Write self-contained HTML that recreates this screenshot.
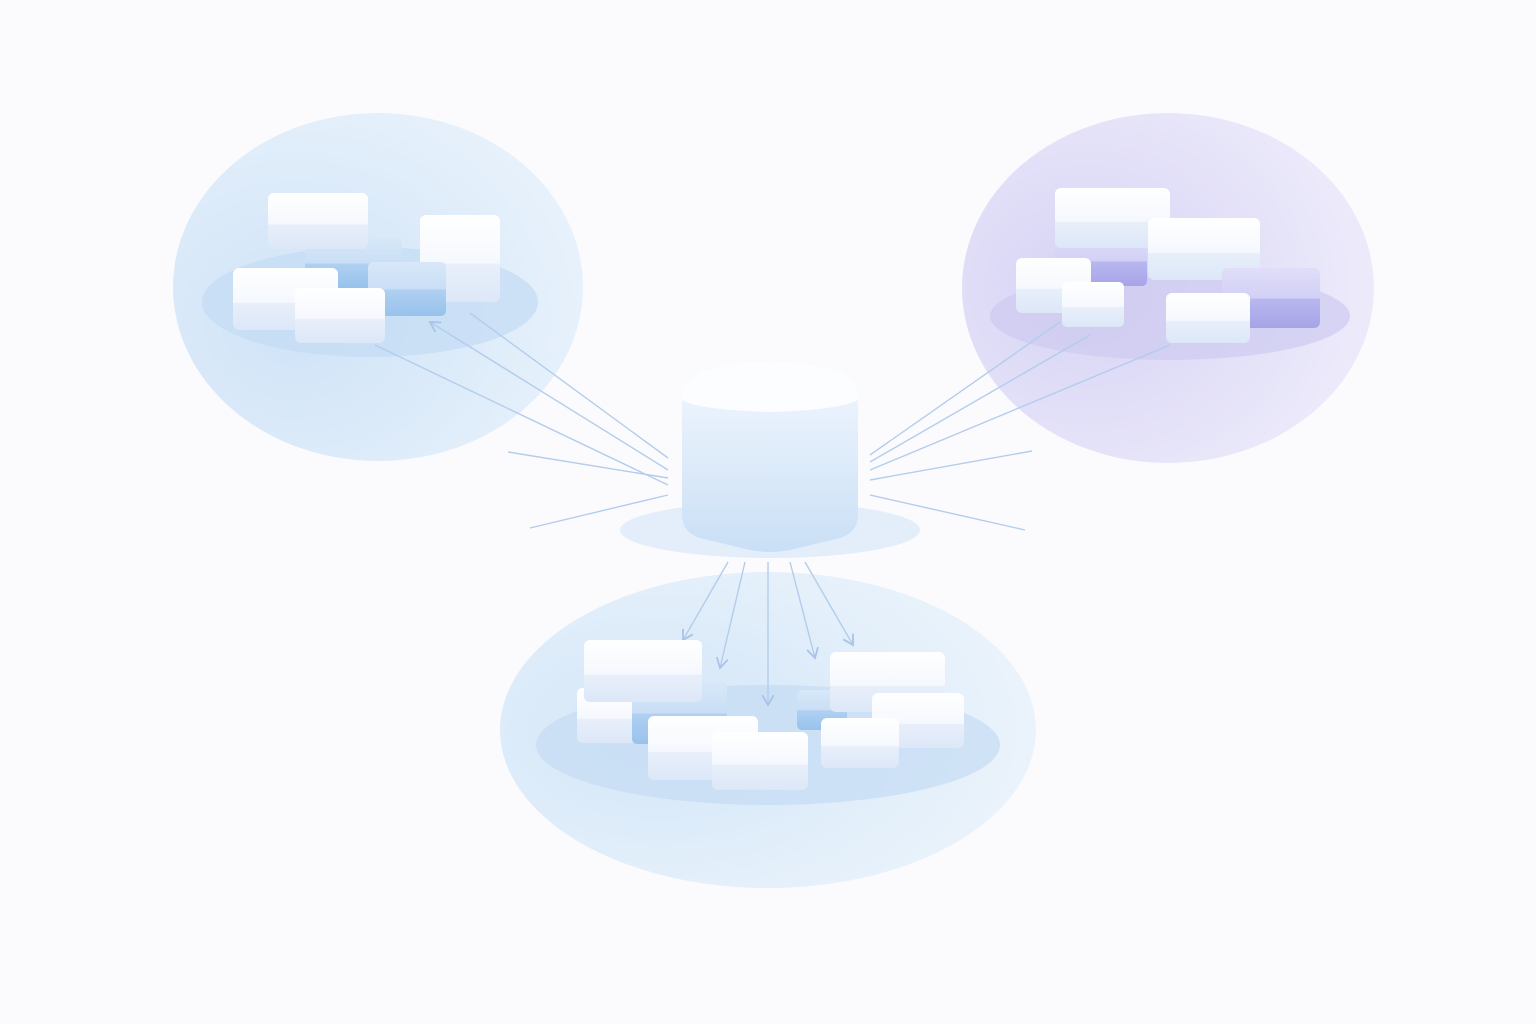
<!DOCTYPE html>
<html><head><meta charset="utf-8"><style>
html,body{margin:0;padding:0;background:#fbfbfd;}
svg{display:block}
</style></head><body>
<svg width="1536" height="1024" viewBox="0 0 1536 1024" xmlns="http://www.w3.org/2000/svg">
<defs>
<radialGradient id="gl" cx="0.3" cy="0.6" r="0.8"><stop offset="0" stop-color="#cfe3f7"/><stop offset="1" stop-color="#eaf3fc"/></radialGradient>
<radialGradient id="gr" cx="0.3" cy="0.5" r="0.8"><stop offset="0" stop-color="#d6d3f5"/><stop offset="1" stop-color="#f0eefb"/></radialGradient>
<radialGradient id="gb" cx="0.3" cy="0.5" r="0.8"><stop offset="0" stop-color="#d3e6f8"/><stop offset="1" stop-color="#eef5fc"/></radialGradient>
<linearGradient id="bw" x1="0" y1="0" x2="0" y2="1"><stop offset="0" stop-color="#ffffff"/><stop offset="0.55" stop-color="#f5f8fe"/><stop offset="0.57" stop-color="#e8effa"/><stop offset="1" stop-color="#dce7f8"/></linearGradient>
<linearGradient id="bb" x1="0" y1="0" x2="0" y2="1"><stop offset="0" stop-color="#d8e8f8"/><stop offset="0.5" stop-color="#c9def5"/><stop offset="0.52" stop-color="#afd0f1"/><stop offset="1" stop-color="#98c2ec"/></linearGradient>
<linearGradient id="bl" x1="0" y1="0" x2="0" y2="1"><stop offset="0" stop-color="#e0def8"/><stop offset="0.5" stop-color="#d2d0f5"/><stop offset="0.52" stop-color="#b9b7ef"/><stop offset="1" stop-color="#a6a4e8"/></linearGradient>
<linearGradient id="cube" x1="0" y1="0" x2="0" y2="1"><stop offset="0" stop-color="#f4f8fe"/><stop offset="1" stop-color="#c9dff6"/></linearGradient>
<marker id="ar" markerWidth="10" markerHeight="10" refX="8" refY="5" orient="auto"><path d="M1,1 L8,5 L1,9" fill="none" stroke="#a9c4e8" stroke-width="1.3"/></marker>
</defs>
<ellipse cx="378" cy="287" rx="205" ry="174" fill="url(#gl)"/>
<ellipse cx="370" cy="302" rx="168" ry="55" fill="#c3dcf4" opacity="0.7"/>
<ellipse cx="1168" cy="288" rx="206" ry="175" fill="url(#gr)"/>
<ellipse cx="1170" cy="316" rx="180" ry="44" fill="#cdcbf1" opacity="0.7"/>
<ellipse cx="768" cy="730" rx="268" ry="158" fill="url(#gb)"/>
<ellipse cx="768" cy="745" rx="232" ry="60" fill="#c4dcf4" opacity="0.7"/>
<ellipse cx="770" cy="530" rx="150" ry="28" fill="#e3eefa"/>

<g stroke="#b3cdec" stroke-width="1.4" fill="none">
<line x1="375" y1="345" x2="668" y2="485"/>
<line x1="668" y1="470" x2="430" y2="322" marker-end="url(#ar)"/>
<line x1="470" y1="313" x2="668" y2="458"/>
<line x1="508" y1="452" x2="668" y2="478"/>
<line x1="530" y1="528" x2="668" y2="495"/>
<line x1="1060" y1="322" x2="870" y2="455"/>
<line x1="1090" y1="335" x2="870" y2="462"/>
<line x1="1170" y1="345" x2="870" y2="470"/>
<line x1="1032" y1="451" x2="870" y2="480"/>
<line x1="1025" y1="530" x2="870" y2="495"/>
<line x1="728" y1="562" x2="683" y2="640" marker-end="url(#ar)"/>
<line x1="745" y1="562" x2="720" y2="668" marker-end="url(#ar)"/>
<line x1="768" y1="562" x2="768" y2="705" marker-end="url(#ar)"/>
<line x1="790" y1="562" x2="815" y2="658" marker-end="url(#ar)"/>
<line x1="805" y1="562" x2="853" y2="645" marker-end="url(#ar)"/>
</g>

<!-- cube -->
<path d="M682,400 Q682,378 705,370 L750,362 Q770,360 790,362 L835,370 Q858,378 858,400 L858,515 Q858,532 840,538 L790,550 Q770,554 750,550 L700,538 Q682,532 682,515 Z" fill="url(#cube)"/>
<path d="M682,400 Q682,378 705,370 L750,362 Q770,360 790,362 L835,370 Q858,378 858,400 Q840,410 770,412 Q700,410 682,400 Z" fill="#fbfdff"/>

<g>
<rect x="305" y="238" width="97" height="50" rx="5" fill="url(#bb)"/>
<rect x="268" y="193" width="100" height="56" rx="6" fill="url(#bw)"/>
<rect x="420" y="215" width="80" height="87" rx="6" fill="url(#bw)"/>
<rect x="368" y="262" width="78" height="54" rx="5" fill="url(#bb)"/>
<rect x="233" y="268" width="105" height="62" rx="6" fill="url(#bw)"/>
<rect x="295" y="288" width="90" height="55" rx="6" fill="url(#bw)"/>

<rect x="1055" y="236" width="92" height="50" rx="5" fill="url(#bl)"/>
<rect x="1055" y="188" width="115" height="60" rx="6" fill="url(#bw)"/>
<rect x="1148" y="218" width="112" height="62" rx="6" fill="url(#bw)"/>
<rect x="1016" y="258" width="75" height="55" rx="6" fill="url(#bw)"/>
<rect x="1222" y="268" width="98" height="60" rx="6" fill="url(#bl)"/>
<rect x="1062" y="282" width="62" height="45" rx="5" fill="url(#bw)"/>
<rect x="1166" y="293" width="84" height="50" rx="6" fill="url(#bw)"/>

<rect x="577" y="688" width="60" height="55" rx="5" fill="url(#bw)"/>
<rect x="632" y="682" width="95" height="62" rx="5" fill="url(#bb)"/>
<rect x="584" y="640" width="118" height="62" rx="6" fill="url(#bw)"/>
<rect x="797" y="690" width="50" height="40" rx="5" fill="url(#bb)"/>
<rect x="648" y="716" width="110" height="64" rx="6" fill="url(#bw)"/>
<rect x="712" y="732" width="96" height="58" rx="6" fill="url(#bw)"/>
<rect x="830" y="652" width="115" height="60" rx="6" fill="url(#bw)"/>
<rect x="872" y="693" width="92" height="55" rx="6" fill="url(#bw)"/>
<rect x="821" y="718" width="78" height="50" rx="6" fill="url(#bw)"/>
</g>
</svg>
</body></html>
